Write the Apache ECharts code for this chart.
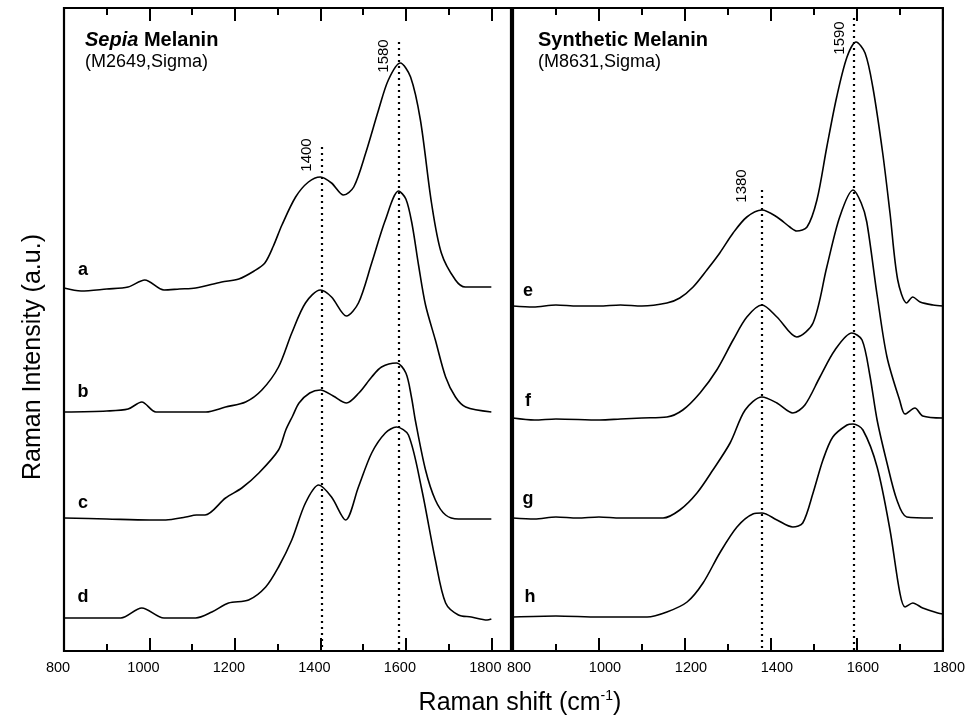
<!DOCTYPE html>
<html>
<head>
<meta charset="utf-8">
<script src="https://cdn.jsdelivr.net/npm/echarts@6/dist/echarts.min.js"></script>
<style>html,body{margin:0;padding:0;background:#fff}#c{width:968px;height:717px}</style>
</head>
<body>
<div id="c"></div>
<script>
// Raman shift (cm-1), intensity (a.u., curves stacked with offsets as in the figure)
const specA = [[800,363],[840,360],[900,362],[950,364],[989,371],[1034,361],[1070,362],[1108,363],[1169,369],[1209,372],[1245,380],[1270,388],[1290,405],[1310,426],[1342,454],[1372,469],[1400,474],[1426,468],[1454,456],[1478,464],[1506,498],[1536,541],[1559,571],[1587,588],[1611,574],[1634,531],[1660,448],[1683,398],[1716,371],[1739,364],[1800,364]];
const specB = [[800,239],[900,240],[950,242],[982,249],[1015,239],[1060,239],[1132,239],[1178,244],[1225,249],[1263,261],[1302,284],[1333,318],[1365,348],[1400,361],[1426,354],[1461,335],[1489,348],[1520,388],[1552,431],[1583,460],[1600,452],[1614,428],[1630,385],[1646,346],[1669,311],[1693,274],[1716,254],[1740,244],[1800,239]];
const specC = [[800,133],[900,132],[1000,131],[1038,131],[1085,134],[1110,136],[1130,136],[1178,153],[1216,163],[1256,178],[1302,201],[1319,221],[1335,235],[1350,248],[1375,258],[1400,261],[1430,255],[1461,248],[1490,258],[1520,274],[1543,284],[1578,288],[1600,278],[1613,254],[1622,231],[1646,181],[1669,151],[1693,136],[1723,132],[1800,132]];
const specD = [[800,33],[900,33],[933,33],[982,43],[1034,33],[1108,33],[1146,39],[1185,48],[1232,51],[1272,64],[1302,84],[1333,111],[1365,148],[1396,166],[1426,154],[1459,131],[1489,164],[1520,198],[1552,218],[1578,224],[1606,216],[1636,164],[1669,91],[1693,48],[1723,36],[1753,34],[1790,31],[1800,32]];
const specE = [[800,345],[847,344],[900,346],[950,345],[1000,345],[1050,346],[1100,345],[1158,348],[1188,353],[1219,364],[1251,381],[1281,398],[1312,418],[1344,434],[1379,441],[1414,434],[1444,424],[1460,420],[1484,424],[1507,451],[1530,504],[1553,554],[1577,594],[1598,609],[1619,598],[1637,564],[1660,498],[1677,438],[1695,371],[1716,348],[1730,354],[1747,349],[1777,346],[1800,345]];
const specF = [[800,233],[850,231],[900,232],[1002,231],[1050,232],[1100,233],[1158,234],[1195,241],[1235,258],[1274,281],[1312,311],[1344,334],[1379,346],[1414,334],[1460,314],[1498,328],[1530,384],[1560,434],[1591,461],[1610,448],[1623,429],[1647,356],[1670,294],[1700,250],[1712,237],[1735,243],[1753,235],[1800,233]];
const specG = [[800,133],[850,132],[900,134],[950,133],[1000,134],[1050,133],[1100,133],[1149,133],[1188,141],[1228,158],[1265,181],[1305,208],[1340,241],[1379,254],[1414,248],[1451,238],[1479,246],[1514,274],[1549,301],[1588,318],[1612,311],[1630,276],[1647,231],[1670,188],[1693,151],[1716,134],[1777,133]];
const specH = [[800,34],[900,35],[1000,34],[1112,34],[1158,39],[1205,49],[1242,68],[1281,98],[1321,124],[1358,137],[1379,138],[1414,131],[1451,124],[1474,128],[1498,158],[1521,191],[1544,214],[1577,226],[1591,227],[1614,221],[1647,184],[1677,121],[1700,58],[1712,44],[1730,48],[1753,43],[1788,38],[1800,37]];

const leftNames = ['a','b','c','d'];
const rightNames = ['e','f','g','h'];
const leftSpectra = [specA, specB, specC, specD];
const rightSpectra = [specE, specF, specG, specH];
// dotted peak markers: [position, top of line]
const leftPeaks = [[1404, 504], [1584, 609]];
const rightPeaks = [[1379, 461], [1593, 633]];
const leftPeakLabels = ['1400', '1580'];
const rightPeakLabels = ['1380', '1590'];

const FONT = 'Liberation Sans, Arial, sans-serif';
const chart = echarts.init(document.getElementById('c'));

const leftMax = 1846, rightMax = 1800, yMax = 643;
const gridL = {left:64, top:8, width:447, height:643};
const gridR = {left:513, top:8, width:430, height:643};

function xAx(gi, pos, max, interval, len, labels, pad) {
  return {
    type:'value', gridIndex:gi, position:pos, min:800, max:max, interval:interval,
    axisLine:{show:false}, splitLine:{show:false},
    axisTick:{show:true, inside:true, length:len, lineStyle:{color:'#000', width:2}},
    axisLabel:{show:labels, color:'#000', fontSize:14.5, fontFamily:FONT, margin:9, padding:pad,
      formatter: v => (v % 200 === 0 ? String(v) : '')}
  };
}
function yAx(gi) { return {type:'value', gridIndex:gi, min:0, max:yMax, show:false}; }

function dotted(peaks) {
  return {
    silent:true, symbol:'none', label:{show:false},
    lineStyle:{color:'#000', type:[2,4], width:2.2},
    data: peaks.map(p => [{coord:[p[0], p[1]]}, {coord:[p[0], 0]}])
  };
}

const series = [];
leftSpectra.forEach((d, i) => series.push({
  name:leftNames[i], type:'line', xAxisIndex:0, yAxisIndex:0, data:d, showSymbol:false, smooth:0.3,
  lineStyle:{color:'#000', width:1.6}, markLine: i === 0 ? dotted(leftPeaks) : undefined
}));
rightSpectra.forEach((d, i) => series.push({
  name:rightNames[i], type:'line', xAxisIndex:2, yAxisIndex:1, data:d, showSymbol:false, smooth:0.3,
  lineStyle:{color:'#000', width:1.6}, markLine: i === 0 ? dotted(rightPeaks) : undefined
}));

const txt = (x, y, text, size, weight, extra) => Object.assign({
  type:'text', x:x, y:y, silent:true,
  style:Object.assign({text:text, fill:'#000', font: (weight||'normal') + ' ' + size + 'px ' + FONT, align:'left', verticalAlign:'middle'}, extra && extra.style)
}, extra && extra.el);

const letterPos = [[83,270],[83,392],[83,503],[83,597],[528,291],[528,401],[528,499],[530,597]];
const letters = leftNames.concat(rightNames);

const graphics = [];
letters.forEach((l, i) => graphics.push(txt(letterPos[i][0], letterPos[i][1], l, 18, 'bold', {style:{align:'center'}})));
graphics.push({type:'text', x:85, y:40, silent:true, style:{
  text:'{i|Sepia}{b| Melanin}', align:'left', verticalAlign:'middle',
  rich:{i:{fontStyle:'italic', fontWeight:'bold', fontSize:20, fontFamily:FONT, fill:'#000'},
        b:{fontWeight:'bold', fontSize:20, fontFamily:FONT, fill:'#000'}}}});
graphics.push(txt(85, 62, '(M2649,Sigma)', 18, 'normal'));
graphics.push(txt(538, 40, 'Synthetic Melanin', 20, 'bold'));
graphics.push(txt(538, 62, '(M8631,Sigma)', 18, 'normal'));
const peakLabelPos = [[307,155],[384,56],[742,186],[840,38]];
leftPeakLabels.concat(rightPeakLabels).forEach((t, i) => graphics.push(
  txt(peakLabelPos[i][0], peakLabelPos[i][1], t, 15, 'normal', {style:{align:'center'}, el:{rotation:Math.PI/2}})));
graphics.push(txt(33, 357, 'Raman Intensity (a.u.)', 25, 'normal', {style:{align:'center'}, el:{rotation:Math.PI/2}}));
graphics.push({type:'text', x:520, y:703, silent:true, style:{
  text:'{a|Raman shift (cm}{s|-1}{a|)}', align:'center', verticalAlign:'middle',
  rich:{a:{fontSize:25, fontFamily:FONT, fill:'#000'}, s:{fontSize:14, fontFamily:FONT, fill:'#000', padding:[0,0,14,0]}}}});

chart.setOption({
  animation:false,
  backgroundColor:'#fff',
  grid:[
    Object.assign({show:true, borderColor:'#000', borderWidth:2.2, backgroundColor:'transparent'}, gridL),
    Object.assign({show:true, borderColor:'#000', borderWidth:2.2, backgroundColor:'transparent'}, gridR),
    Object.assign({show:false}, gridL),
    Object.assign({show:false}, gridR)
  ],
  xAxis:[
    xAx(0,'bottom',leftMax,200,13,true,[0,12,0,0]),
    xAx(0,'top',leftMax,200,13,false),
    xAx(1,'bottom',rightMax,200,13,true,[0,0,0,12]),
    xAx(1,'top',rightMax,200,13,false),
    xAx(2,'bottom',leftMax,100,7,false),
    xAx(2,'top',leftMax,100,7,false),
    xAx(3,'bottom',rightMax,100,7,false),
    xAx(3,'top',rightMax,100,7,false)
  ],
  yAxis:[yAx(0), yAx(1), yAx(2), yAx(3)],
  series: series.concat([
    {type:'line', xAxisIndex:4, yAxisIndex:2, data:[]},
    {type:'line', xAxisIndex:5, yAxisIndex:2, data:[]},
    {type:'line', xAxisIndex:6, yAxisIndex:3, data:[]},
    {type:'line', xAxisIndex:7, yAxisIndex:3, data:[]}
  ]),
  graphic: graphics
});
</script>
</body>
</html>
